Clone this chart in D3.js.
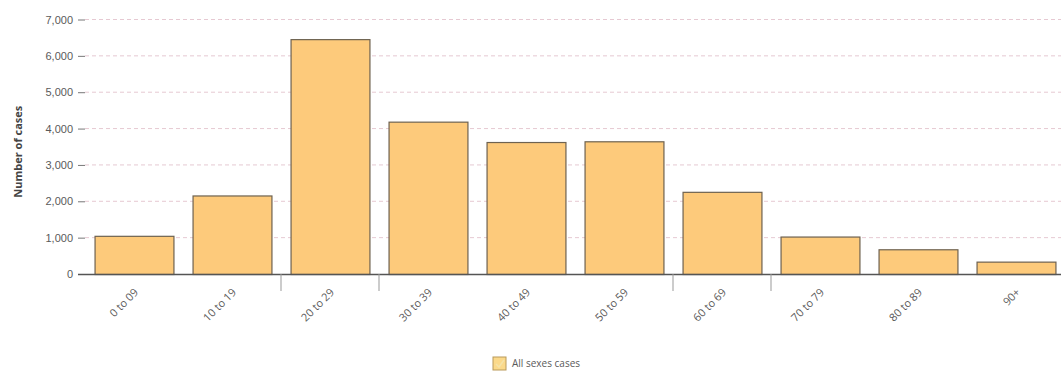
<!DOCTYPE html>
<html>
<head>
<meta charset="utf-8">
<script src="https://cdn.jsdelivr.net/npm/d3@7"></script>
<style>
  html, body { margin: 0; padding: 0; background: #fff; }
  svg { display: block; font-family: "Open Sans", "DejaVu Sans", sans-serif; }
</style>
</head>
<body>
<svg id="chart" width="1061" height="379"></svg>
<script>
// Age groups and case counts
const ageGroups = ["0 to 09", "10 to 19", "20 to 29", "30 to 39", "40 to 49",
                   "50 to 59", "60 to 69", "70 to 79", "80 to 89", "90+"];
const cases = [1050, 2160, 6460, 4190, 3630, 3650, 2260, 1030, 680, 340];
const yTicks = [0, 1000, 2000, 3000, 4000, 5000, 6000, 7000];
// Boundaries between groups that carry a separator tick
const separatorAfter = [1, 2, 5, 6];
const seriesName = "All sexes cases";
const yTitle = "Number of cases";

const svg = d3.select("#chart");
const plotLeft = 85, plotRight = 1065, plotTop = 19.5, plotBottom = 274;

const x = d3.scaleBand()
  .domain(ageGroups)
  .range([plotLeft, plotRight])
  .paddingInner(0.195)
  .paddingOuter(0.0975);

const y = d3.scaleLinear().domain([0, 7000]).range([plotBottom, plotTop]);

// Horizontal dashed gridlines
svg.append("g")
  .selectAll("line")
  .data(yTicks.filter(d => d > 0))
  .join("line")
  .attr("x1", plotLeft).attr("x2", 1061)
  .attr("y1", d => y(d)).attr("y2", d => y(d))
  .attr("stroke", "#e6c9d2")
  .attr("stroke-width", 1)
  .attr("stroke-dasharray", "4,3");

// Y axis ticks and labels
const yAxis = svg.append("g").attr("transform", `translate(${plotLeft},0)`)
  .call(d3.axisLeft(y).tickValues(yTicks).tickSize(7).tickPadding(5)
    .tickFormat(d3.format(",")));
yAxis.select(".domain").remove();
yAxis.selectAll(".tick line").attr("stroke", "#777");
yAxis.selectAll(".tick text")
  .attr("fill", "#5a5a5a")
  .style("font-size", "11px");

// Y axis title
svg.append("text")
  .attr("transform", `translate(22,${(plotTop + plotBottom) / 2 + 5}) rotate(-90)`)
  .attr("text-anchor", "middle")
  .attr("fill", "#444")
  .style("font-size", "11px")
  .style("font-weight", "bold")
  .text(yTitle);

// Bars
svg.append("g")
  .selectAll("rect")
  .data(ageGroups.map((g, i) => ({ g, v: cases[i] })))
  .join("rect")
  .attr("x", d => x(d.g) + 0.5)
  .attr("y", d => y(d.v) + 0.5)
  .attr("width", x.bandwidth())
  .attr("height", d => plotBottom - y(d.v))
  .attr("fill", "#fdca7b")
  .attr("stroke", "#6e6250")
  .attr("stroke-width", 1.2);

// Baseline
svg.append("line")
  .attr("x1", plotLeft - 7).attr("x2", 1061)
  .attr("y1", plotBottom + 0.5).attr("y2", plotBottom + 0.5)
  .attr("stroke", "#555")
  .attr("stroke-width", 1.3);

// Separator ticks below the baseline
const sepX = i => x(ageGroups[i]) + x.step() - x.step() * x.paddingInner() / 2;
svg.append("g")
  .selectAll("line")
  .data(separatorAfter)
  .join("line")
  .attr("x1", sepX)
  .attr("x2", sepX)
  .attr("y1", plotBottom)
  .attr("y2", plotBottom + 17)
  .attr("stroke", "#999")
  .attr("stroke-width", 1);

// Rotated category labels
svg.append("g")
  .selectAll("text")
  .data(ageGroups)
  .join("text")
  .attr("transform", d => `translate(${x(d) + x.bandwidth() / 2 + 5},${plotBottom + 19}) rotate(-45)`)
  .attr("text-anchor", "end")
  .attr("fill", "#5a5a5a")
  .style("font-size", "11px")
  .text(d => d);

// Legend
const legend = svg.append("g").attr("transform", "translate(493,357)");
legend.append("rect")
  .attr("width", 13).attr("height", 13)
  .attr("fill", "#fbd98a")
  .attr("stroke", "#b99a5a");
legend.append("path")
  .attr("d", "M3,7 L6,10 L11,3")
  .attr("fill", "none")
  .attr("stroke", "#f5e3a8")
  .attr("stroke-width", 1.5);
legend.append("text")
  .attr("x", 19).attr("y", 10)
  .attr("fill", "#5a5a5a")
  .style("font-size", "10px")
  .text(seriesName);
</script>
</body>
</html>
